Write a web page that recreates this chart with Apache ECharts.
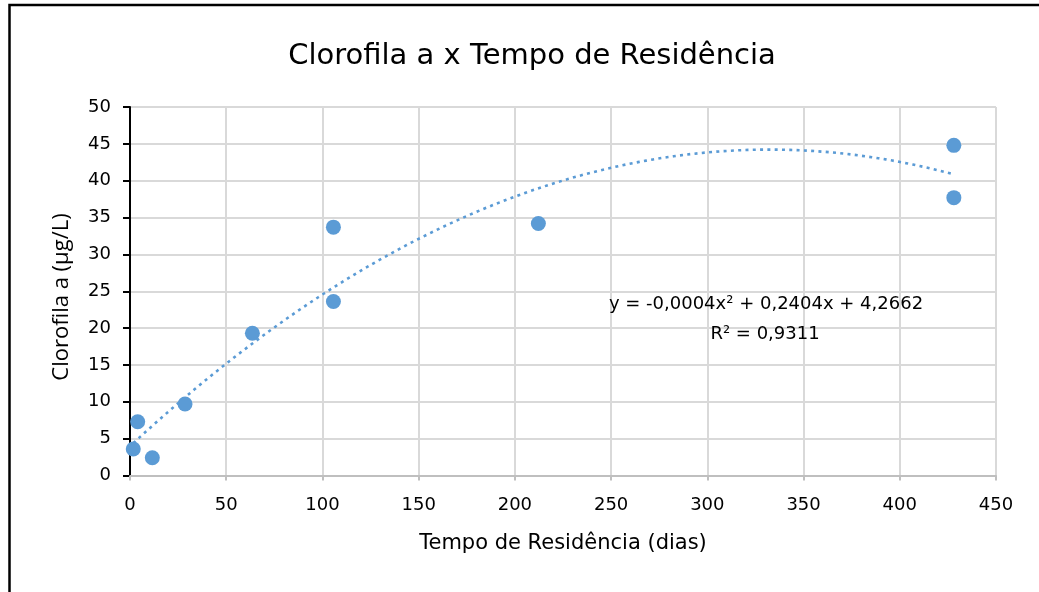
<!DOCTYPE html>
<html>
<head>
<meta charset="utf-8">
<style>
  html, body { margin: 0; padding: 0; background: #ffffff; }
  #chart { width: 1039px; height: 592px; }
</style>
<script src="https://cdn.jsdelivr.net/npm/echarts@6/dist/echarts.min.js"></script>
</head>
<body>
<div id="chart"></div>
<script>
// Residence time (days) and chlorophyll-a (µg/L) for each sample
const residenceDays = [1.7, 4.0, 11.6, 28.6, 63.6, 105.7, 105.7, 212.2, 428.1, 428.1];
const chlorophyll   = [3.6, 7.3, 2.4, 9.7, 19.3, 33.7, 23.6, 34.2, 44.8, 37.7];

// Axis ticks
const xTicks = [0, 50, 100, 150, 200, 250, 300, 350, 400, 450];
const yTicks = [0, 5, 10, 15, 20, 25, 30, 35, 40, 45, 50];

// Trendline annotation as printed
const equationText = 'y = -0,0004x² + 0,2404x + 4,2662';
const r2Text = 'R² = 0,9311';

// Least-squares 2nd-order polynomial fit of the samples
function quadFit(xs, ys) {
  let s0 = xs.length, s1 = 0, s2 = 0, s3 = 0, s4 = 0, t0 = 0, t1 = 0, t2 = 0;
  for (let i = 0; i < xs.length; i++) {
    const x = xs[i], y = ys[i], x2 = x * x;
    s1 += x; s2 += x2; s3 += x2 * x; s4 += x2 * x2;
    t0 += y; t1 += x * y; t2 += x2 * y;
  }
  // Solve [[s4 s3 s2][s3 s2 s1][s2 s1 s0]] [a b c] = [t2 t1 t0]
  const M = [[s4, s3, s2, t2], [s3, s2, s1, t1], [s2, s1, s0, t0]];
  for (let c = 0; c < 3; c++) {
    let p = c;
    for (let r = c + 1; r < 3; r++) if (Math.abs(M[r][c]) > Math.abs(M[p][c])) p = r;
    [M[c], M[p]] = [M[p], M[c]];
    for (let r = 0; r < 3; r++) {
      if (r === c) continue;
      const f = M[r][c] / M[c][c];
      for (let k = c; k < 4; k++) M[r][k] -= f * M[c][k];
    }
  }
  return [M[0][3] / M[0][0], M[1][3] / M[1][1], M[2][3] / M[2][2]];
}

const [qa, qb, qc] = quadFit(residenceDays, chlorophyll);
const xMinData = Math.min(...residenceDays), xMaxData = Math.max(...residenceDays);
const trendPoints = [];
const steps = 120;
for (let i = 0; i <= steps; i++) {
  const x = xMinData + (xMaxData - xMinData) * i / steps;
  trendPoints.push([x, qa * x * x + qb * x + qc]);
}

const points = residenceDays.map((x, i) => [x, chlorophyll[i]]);
const blue = '#5b9bd5';

const chart = echarts.init(document.getElementById('chart'), null, { renderer: 'canvas' });
chart.setOption({
  backgroundColor: '#ffffff',
  animation: false,
  title: {
    text: 'Clorofila a x Tempo de Residência',
    left: 527,
    top: 37,
    textAlign: 'center',
    textStyle: { fontFamily: 'DejaVu Sans', fontSize: 29, fontWeight: 'normal', color: '#000000' }
  },
  grid: { left: 130, right: 43, top: 107, bottom: 116.5, containLabel: false },
  xAxis: {
    type: 'value',
    min: xTicks[0],
    max: xTicks[xTicks.length - 1],
    interval: xTicks[1] - xTicks[0],
    name: 'Tempo de Residência (dias)',
    nameLocation: 'middle',
    nameGap: 58,
    nameTextStyle: { fontFamily: 'DejaVu Sans', fontSize: 21, color: '#000000' },
    axisLine: { onZero: false, lineStyle: { color: '#bfbfbf', width: 2 } },
    axisTick: { show: true, length: 5, lineStyle: { color: '#bfbfbf', width: 2 } },
    axisLabel: { margin: 21, fontFamily: 'DejaVu Sans', fontSize: 18, color: '#000000' },
    splitLine: { show: true, lineStyle: { color: '#d9d9d9', width: 2 } }
  },
  yAxis: {
    type: 'value',
    min: yTicks[0],
    max: yTicks[yTicks.length - 1],
    interval: yTicks[1] - yTicks[0],
    axisLine: { show: true, onZero: false, lineStyle: { color: '#000000', width: 2 } },
    axisTick: { show: true, length: 7, lineStyle: { color: '#000000', width: 2 } },
    axisLabel: { margin: 19, fontFamily: 'DejaVu Sans', fontSize: 18, color: '#000000' },
    splitLine: { show: true, lineStyle: { color: '#d9d9d9', width: 2 } }
  },
  graphic: [
    {
      type: 'rect',
      silent: true,
      shape: { x: 9.5, y: 5, width: 1200, height: 800 },
      style: { fill: 'none', stroke: '#000000', lineWidth: 2.5 },
      z: 100
    },
    {
      type: 'text',
      silent: true,
      x: 62, y: 297,
      rotation: Math.PI / 2,
      style: {
        text: 'Clorofila a (µg/L)',
        fontFamily: 'Open Sans',
        fontSize: 22,
        fill: '#000000',
        textAlign: 'center',
        textVerticalAlign: 'middle'
      }
    },
    {
      type: 'text',
      silent: true,
      x: 766, y: 304,
      style: {
        text: equationText,
        fontFamily: 'DejaVu Sans',
        fontSize: 18,
        fill: '#000000',
        textAlign: 'center',
        textVerticalAlign: 'middle'
      },
      z: 50
    },
    {
      type: 'text',
      silent: true,
      x: 765, y: 334,
      style: {
        text: r2Text,
        fontFamily: 'DejaVu Sans',
        fontSize: 18,
        fill: '#000000',
        textAlign: 'center',
        textVerticalAlign: 'middle'
      },
      z: 50
    }
  ],
  series: [
    {
      name: 'Clorofila a',
      type: 'scatter',
      data: points,
      symbol: 'circle',
      symbolSize: 15,
      itemStyle: { color: blue, opacity: 1 },
      z: 3
    },
    {
      name: 'Tendência',
      type: 'line',
      data: trendPoints,
      showSymbol: false,
      symbol: 'none',
      smooth: false,
      lineStyle: { color: blue, width: 2.6, type: [3, 4.3], cap: 'butt' },
      z: 4
    }
  ]
});
</script>
</body>
</html>
